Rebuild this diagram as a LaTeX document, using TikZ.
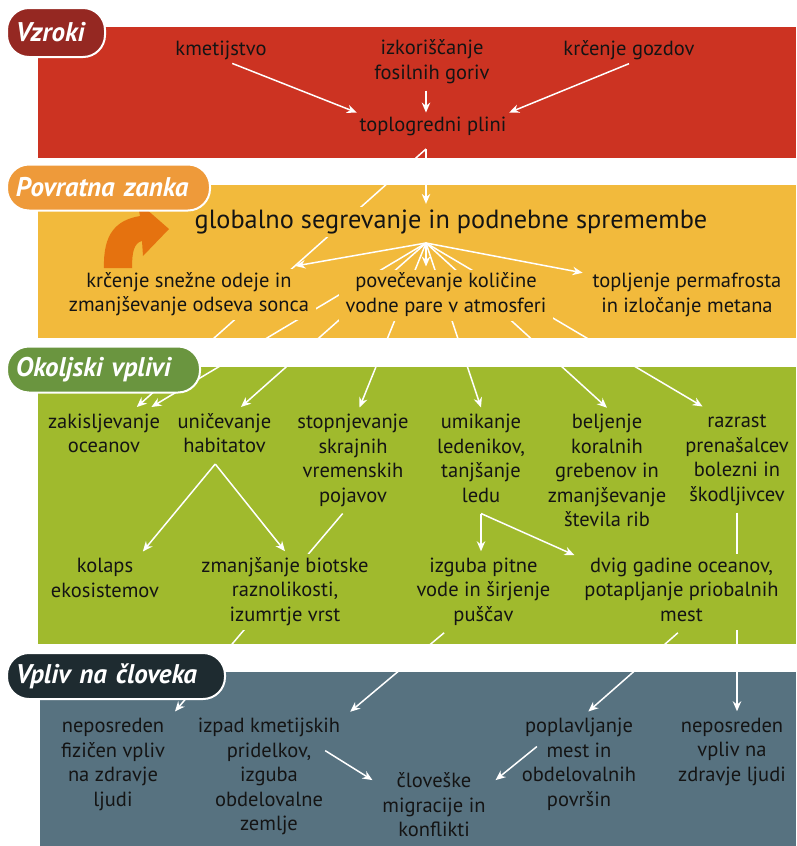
\documentclass[tikz,border=0pt]{standalone}
\usepackage{fontspec}
\setmainfont{PT Sans}
\usetikzlibrary{positioning,arrows.meta}

\definecolor{causebg}{HTML}{CC3322}
\definecolor{causetag}{HTML}{952822}
\definecolor{loopbg}{HTML}{F2BA3C}
\definecolor{looptag}{HTML}{EE9A3A}
\definecolor{looparrow}{HTML}{E5720F}
\definecolor{envbg}{HTML}{A0BA2D}
\definecolor{envtag}{HTML}{6A953F}
\definecolor{humanbg}{HTML}{577280}
\definecolor{humantag}{HTML}{1E2B30}
\definecolor{ink}{HTML}{141414}

\pgfdeclarelayer{bands}
\pgfdeclarelayer{links}
\pgfsetlayers{bands,links,main}

\begin{document}
\begin{tikzpicture}[x=1pt, y=-1pt,
  txt/.style={text=ink, font=\fontsize{20.5}{24.5}\selectfont, inner sep=1pt, outer sep=3pt},
  tag/.style={rounded corners=22pt, draw=white, line width=2pt, text=white, font=\bfseries\itshape\fontsize{27}{30}\selectfont, align=left, inner xsep=9pt, minimum height=46pt},
  link/.style={draw=white, line width=1.5pt, -{Stealth[length=10pt, width=8.5pt]}}]

\useasboundingbox (0,0) rectangle (796,846);

% Bands
\begin{pgfonlayer}{bands}
\fill[causebg] (38,27) rectangle (796,158);
\fill[loopbg] (38,185) rectangle (796,338);
\fill[envbg] (38,367) rectangle (796,644);
\fill[humanbg] (40,672) rectangle (796,846);
\end{pgfonlayer}

% Causes
\node[txt] (kmet) at (221,50) {kmetijstvo};
\node[txt] (fosil) at (432,62) {\begin{tabular}{c}izkoriščanje\\fosilnih goriv\end{tabular}};
\node[txt] (gozd) at (629,50) {krčenje gozdov};
\node[txt] (toplo) at (433,126) {toplogredni plini};
\coordinate (apex) at (426,149);

% Feedback loop
\fill[looparrow] (104,268) .. controls (103,234) and (116,220) .. (140,216) -- (137,201) -- (169,229) -- (143,256) -- (142,241) .. controls (134,243) and (132,252) .. (132,268) -- cycle;
\node[txt, font=\fontsize{26.3}{30}\selectfont, fill=loopbg, inner sep=3pt] (glob) at (451,222) {globalno segrevanje in podnebne spremembe};
\coordinate (hub) at (426,243);
\node[txt, fill=loopbg] (snow) at (189,294.5) {\begin{tabular}{c}krčenje snežne odeje in\\zmanjševanje odseva sonca\end{tabular}};
\node[txt, fill=loopbg] (povec) at (446,295) {\begin{tabular}{c}povečevanje količine\\vodne pare v atmosferi\end{tabular}};
\node[txt] (perm) at (687,295) {\begin{tabular}{c}topljenje permafrosta\\in izločanje metana\end{tabular}};

% Environmental impacts
\node[txt] (zakis) at (104,435.5) {\begin{tabular}{c}zakisljevanje\\oceanov\end{tabular}};
\node[txt] (unic) at (224.5,435.5) {\begin{tabular}{c}uničevanje\\habitatov\end{tabular}};
\node[txt] (stop) at (353,460.5) {\begin{tabular}{c}stopnjevanje\\skrajnih\\vremenskih\\pojavov\end{tabular}};
\node[txt] (umik) at (481,460.5) {\begin{tabular}{c}umikanje\\ledenikov,\\tanjšanje\\ledu\end{tabular}};
\node[txt] (belj) at (607,473) {\begin{tabular}{c}beljenje\\koralnih\\grebenov in\\zmanjševanje\\števila rib\end{tabular}};
\node[txt] (razr) at (737,459.5) {\begin{tabular}{c}razrast\\prenašalcev\\bolezni in\\škodljivcev\end{tabular}};
\node[txt] (kolaps) at (105,580) {\begin{tabular}{c}kolaps\\ekosistemov\end{tabular}};
\node[txt, fill=envbg] (zmanj) at (285,592) {\begin{tabular}{c}zmanjšanje biotske\\raznolikosti,\\izumrtje vrst\end{tabular}};
\node[txt] (izguba) at (483.5,592) {\begin{tabular}{c}izguba pitne\\vode in širjenje\\puščav\end{tabular}};
\node[txt, fill=envbg] (dvig) at (681.5,592) {\begin{tabular}{c}dvig gadine oceanov,\\potapljanje priobalnih\\mest\end{tabular}};

% Human impacts
\node[txt] (nepo1) at (113,764.5) {\begin{tabular}{c}neposreden\\fizičen vpliv\\na zdravje\\ljudi\end{tabular}};
\node[txt] (izpad) at (269,777) {\begin{tabular}{c}izpad kmetijskih\\pridelkov,\\izguba\\obdelovalne\\zemlje\end{tabular}};
\node[txt] (cloves) at (434,807.5) {\begin{tabular}{c}človeške\\migracije in\\konflikti\end{tabular}};
\node[txt] (poplav) at (579,764.5) {\begin{tabular}{c}poplavljanje\\mest in\\obdelovalnih\\površin\end{tabular}};
\node[txt] (nepo2) at (732,752) {\begin{tabular}{c}neposreden\\vpliv na\\zdravje ljudi\end{tabular}};

% Arrows running behind the texts
\begin{pgfonlayer}{links}
\draw[link] (apex) -- (zakis.41);
\draw[link] (hub) -- (zakis.31);
\draw[link] (hub) -- (unic.60);
\draw[link] (hub) -- (stop.83);
\draw[link] (hub) -- (umik.north);
\draw[link] (hub) -- (belj.north);
\draw[link] (hub) -- (razr.123);
\draw[link] (stop.-101) -- (nepo1.north east);
\draw[link] (razr.south) -- (razr.south |- nepo2.north);
\end{pgfonlayer}

% Arrows - causes
\draw[link] (kmet.-50) -- (toplo.170);
\draw[link] (fosil.south -| apex) -- (toplo.north -| apex);
\draw[link] (gozd.south) -- (toplo.10);
\draw[link] (apex) -- (glob.north -| apex);

% Arrows - feedback loop
\draw[link] (hub) -- (snow.15);
\draw[link] (hub) -- (povec.north -| hub);
\draw[link] (hub) -- (perm.168);

% Arrows - environment
\draw[link] (unic.-108) -- (kolaps.37);
\draw[link] (unic.-108) -- (zmanj.north);
\draw[link] (umik.south) -- (umik.south |- izguba.north);
\draw[link] (umik.south) -- (dvig.161);

% Arrows - human
\draw[link] (dvig.-95) -- (poplav.80);
\draw[link] (izguba.-134) -- (izpad.north east);
\draw[link] ([xshift=-25pt]izpad.18) -- (cloves.156);
\draw[link] ([xshift=25pt]poplav.165) -- (cloves.24);

% Section tags
\node[tag, fill=causetag, text width=80pt, minimum height=49pt] (vzroki) at (56,32.5) {Vzroki};
\node[tag, fill=looptag, text width=185pt] (zanka) at (108.5,187.5) {Povratna zanka};
\node[tag, fill=envtag, text width=175pt] (okolje) at (103.5,369.5) {Okoljski vplivi};
\node[tag, fill=humantag, text width=200pt] (clovek) at (116,676) {Vpliv na človeka};

\end{tikzpicture}
\end{document}
